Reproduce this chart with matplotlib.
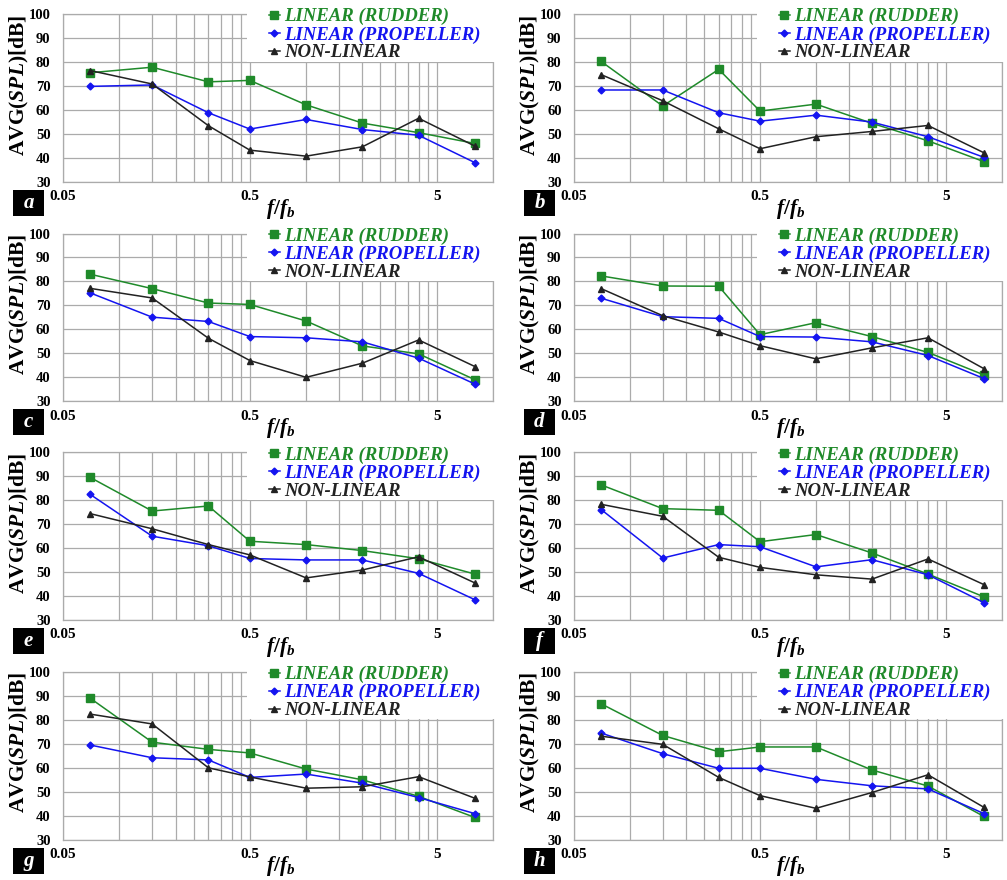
import numpy as np
import matplotlib.pyplot as plt
import matplotlib.ticker as ticker
from matplotlib.patches import Rectangle

plt.rcParams['font.family'] = 'Liberation Serif'
plt.rcParams['font.weight'] = 'bold'
plt.rcParams['mathtext.fontset'] = 'custom'
plt.rcParams['mathtext.rm'] = 'Liberation Serif:bold'
plt.rcParams['mathtext.bf'] = 'Liberation Serif:bold'
plt.rcParams['mathtext.it'] = 'Liberation Serif:italic:bold'

# frequency ratio f/fb of each band
freq = [0.07, 0.15, 0.3, 0.5, 1, 2, 4, 8]

panels = ['a', 'b', 'c', 'd', 'e', 'f', 'g', 'h']

# AVG(SPL) [dB] per case
rudder = {
    'a': [75.5, 77.8, 71.7, 72.3, 62.1, 54.5, 50.5, 46.0],
    'b': [80.2, 61.6, 76.9, 59.5, 62.4, 54.4, 47.1, 38.4],
    'c': [83.0, 77.0, 71.0, 70.4, 63.5, 53.1, 49.8, 39.0],
    'd': [82.3, 78.1, 78.0, 57.8, 62.8, 57.0, 50.4, 41.0],
    'e': [89.5, 75.5, 77.6, 62.9, 61.5, 59.0, 55.6, 49.2],
    'f': [86.4, 76.5, 75.8, 62.7, 65.7, 58.0, 49.2, 39.7],
    'g': [88.9, 70.6, 67.6, 66.1, 59.4, 54.9, 48.0, 39.2],
    'h': [86.6, 73.4, 66.6, 68.6, 68.6, 59.0, 52.3, 39.6],
}
propeller = {
    'a': [69.8, 70.4, 58.8, 52.0, 56.0, 51.8, 49.4, 38.0],
    'b': [68.3, 68.3, 58.8, 55.3, 57.8, 54.9, 48.8, 40.2],
    'c': [75.2, 65.1, 63.3, 57.0, 56.5, 54.8, 48.0, 37.2],
    'd': [73.0, 65.3, 64.6, 57.0, 56.8, 54.8, 49.1, 39.5],
    'e': [82.4, 65.0, 61.0, 55.7, 55.1, 55.1, 49.5, 38.5],
    'f': [76.1, 55.9, 61.5, 60.6, 52.2, 55.2, 48.9, 37.3],
    'g': [69.4, 64.1, 63.2, 55.9, 57.3, 53.5, 47.5, 40.8],
    'h': [74.4, 65.8, 59.7, 59.7, 55.1, 52.4, 51.1, 40.8],
}
nonlinear = {
    'a': [76.4, 70.8, 53.4, 43.2, 40.7, 44.6, 56.5, 44.9],
    'b': [74.7, 63.8, 52.1, 43.8, 48.8, 51.0, 53.5, 42.1],
    'c': [77.1, 73.1, 56.3, 47.0, 40.0, 45.9, 55.6, 44.5],
    'd': [77.0, 65.7, 58.9, 53.2, 47.7, 52.3, 56.5, 43.6],
    'e': [74.4, 68.1, 61.5, 57.2, 47.6, 50.9, 56.4, 45.5],
    'f': [78.3, 73.3, 56.2, 52.0, 48.9, 47.1, 55.5, 44.8],
    'g': [82.3, 78.2, 59.9, 56.1, 51.4, 52.0, 56.2, 47.2],
    'h': [73.1, 69.7, 55.9, 48.3, 43.0, 49.6, 57.0, 43.4],
}

GREEN = '#1f8a2a'
BLUE = '#1414f0'
GRID = '#ababab'

W_PX, H_PX = 1007, 880
fig = plt.figure(figsize=(W_PX / 100, H_PX / 100), dpi=100)

col_left = [63, 574]
col_width = [430, 428]
row_top = [14, 233.5, 452.3, 671.7]
ax_h = 167.8

major = [0.05, 0.5, 5]
minor = [d * k for d in major for k in range(2, 10) if d * k <= 10]

legend_font = dict(family='Liberation Serif', weight='bold', style='italic', size=13.5)

for i, p in enumerate(panels):
    r, c = divmod(i, 2)
    x0, w, y0 = col_left[c], col_width[c], row_top[r]
    ax = fig.add_axes([x0 / W_PX, 1 - (y0 + ax_h) / H_PX, w / W_PX, ax_h / H_PX])

    ax.plot(freq, rudder[p], color=GREEN, marker='s', markersize=5.5, lw=1.1,
            label='LINEAR (RUDDER)', zorder=4)
    ax.plot(freq, propeller[p], color=BLUE, marker='D', markersize=3.5, lw=1.1,
            label='LINEAR (PROPELLER)', zorder=4)
    ax.plot(freq, nonlinear[p], color='#222222', marker='^', markersize=5, lw=1.1,
            label='NON-LINEAR', zorder=4)

    ax.set_xscale('log')
    ax.set_xlim(0.05, 10)
    ax.set_ylim(30, 100)
    ax.set_xticks(major)
    ax.set_xticks(minor, minor=True)
    ax.xaxis.set_major_formatter(ticker.FixedFormatter(['0.05', '0.5', '5']))
    ax.xaxis.set_minor_formatter(ticker.NullFormatter())
    ax.set_yticks(np.arange(30, 101, 10))
    ax.tick_params(which='both', length=0, labelsize=11)
    ax.tick_params(axis='y', labelsize=10.5, pad=9)
    ax.tick_params(axis='x', pad=6)
    for t in ax.get_xticklabels() + ax.get_yticklabels():
        t.set_fontweight('bold')
    ax.grid(which='both', color=GRID, lw=0.9)
    ax.set_axisbelow(True)
    for s in ax.spines.values():
        s.set_color(GRID)
        s.set_linewidth(0.9)

    # white block behind the legend hides the grid in the upper right corner
    ax.add_patch(Rectangle((0.428, 0.716), 0.6, 0.35, transform=ax.transAxes,
                           facecolor='white', edgecolor='none', clip_on=False, zorder=2.6))

    leg = ax.legend(loc='upper left', bbox_to_anchor=(0.478, 1.035), frameon=False,
                    prop=legend_font, handlelength=0.6, handletextpad=0.25,
                    labelspacing=0.04, borderpad=0, borderaxespad=0,
                    labelcolor='linecolor')
    leg.set_zorder(5)

    ax.set_ylabel(r'$\mathbf{AVG(}\mathit{SPL}\mathbf{)[dB]}$', fontsize=15.5, va='center')
    ax.yaxis.set_label_coords(-0.102, 0.577)
    ax.set_xlabel(r'$\mathit{f/f_b}$', fontsize=15.5, va='center')
    ax.xaxis.set_label_coords(0.507, -0.16)

    # panel letter in a black box
    bx = (x0 - 50) / W_PX
    by = 1 - (y0 + ax_h + 34) / H_PX
    fig.add_artist(Rectangle((bx, by), 31 / W_PX, 26 / H_PX, transform=fig.transFigure,
                             facecolor='black', edgecolor='none'))
    fig.text(bx + 15.5 / W_PX, by + 13 / H_PX, p, color='white', fontsize=15,
             style='italic', weight='bold', ha='center', va='center')

plt.savefig('out.png', dpi=100)
